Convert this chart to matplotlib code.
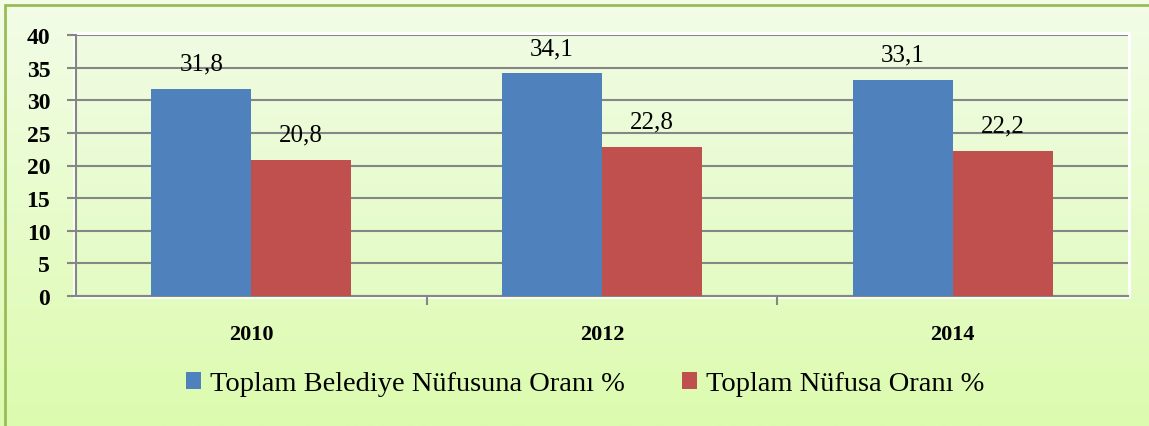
import matplotlib.pyplot as plt
import numpy as np
from matplotlib.patches import Rectangle
from matplotlib.colors import LinearSegmentedColormap

years = ['2010', '2012', '2014']
belediye = [31.8, 34.1, 33.1]
nufus = [20.8, 22.8, 22.2]
labels_b = ['31,8', '34,1', '33,1']
labels_n = ['20,8', '22,8', '22,2']
series_names = ['Toplam Belediye Nüfusuna Oranı %', 'Toplam Nüfusa Oranı %']

blue = '#4F81BD'
red = '#C0504D'
serif = 'Liberation Serif'

fig = plt.figure(figsize=(11.49, 4.27), dpi=100)

# outer chart background (light green gradient) with green border
bg = fig.add_axes([0, 0, 1, 1], zorder=-10)
grad = np.linspace(0, 1, 256).reshape(-1, 1)
cm_bg = LinearSegmentedColormap.from_list('bg', ['#F3FDE8', '#DCFBAE'])
bg.imshow(grad, aspect='auto', cmap=cm_bg, extent=[0, 1, 0, 1], origin='upper')
bg.add_patch(Rectangle((5 / 1149, -0.01), 1.2, 1 - 6 / 427 + 0.01, fill=False,
                       edgecolor='#9BBB59', lw=2))
bg.set_xlim(0, 1)
bg.set_ylim(0, 1)
bg.axis('off')

ax = fig.add_axes([76 / 1149, 1 - 297 / 427, 1052 / 1149, 261 / 427])
ax.set_facecolor('none')
cm_ax = LinearSegmentedColormap.from_list('ax', ['#F0FCE2', '#E3FBC4'])
ax.imshow(grad, aspect='auto', cmap=cm_ax, extent=[-0.5, 2.5, 0, 40],
          origin='upper', zorder=0)

x = np.arange(len(years))
w = 0.285
ax.bar(x - w / 2, belediye, w, color=blue, zorder=3, label=series_names[0])
ax.bar(x + w / 2, nufus, w, color=red, zorder=3, label=series_names[1])

for xi, v, t in zip(x, belediye, labels_b):
    ax.text(xi - w / 2, v + 2.2, t, ha='center', va='bottom',
            fontsize=18, family=serif, zorder=4)
for xi, v, t in zip(x, nufus, labels_n):
    ax.text(xi + w / 2, v + 2.2, t, ha='center', va='bottom',
            fontsize=18, family=serif, zorder=4)

ax.set_xlim(-0.5, 2.5)
ax.set_ylim(0, 40)
ax.set_yticks(range(0, 41, 5))
ax.yaxis.grid(True, color='#868686', lw=1.5, zorder=1)
ax.set_axisbelow(True)

ax.set_xticks(x)
ax.set_xticklabels(years, fontsize=16, family=serif, fontweight='bold')
ax.set_xticks([0.5, 1.5], minor=True)
ax.tick_params(axis='x', which='major', length=0, pad=20)
ax.tick_params(axis='x', which='minor', length=6.5, color='#868686', width=1.5)
ax.tick_params(axis='y', length=6.5, color='#868686', width=1.5, labelsize=17, pad=12)
for lab in ax.get_yticklabels():
    lab.set_family(serif)
    lab.set_fontweight('bold')

for s in ['top', 'right']:
    ax.spines[s].set_visible(False)
ax.spines['left'].set_color('#868686')
ax.spines['bottom'].set_color('#868686')
ax.spines['left'].set_linewidth(1.5)
ax.spines['bottom'].set_linewidth(1.5)

# white frame around plot area
bg.add_patch(Rectangle((76 / 1149, 1 - 297 / 427), 1052 / 1149, 261 / 427,
                       fill=False, edgecolor='white', lw=4))

leg = fig.legend(loc='center', bbox_to_anchor=(585 / 1149, 1 - 385 / 427), ncol=2,
                 frameon=False, prop={'family': serif, 'size': 20.5},
                 handlelength=0.55, handleheight=0.55, handletextpad=0.3,
                 columnspacing=2.0)

fig.savefig('out.png', dpi=100)
